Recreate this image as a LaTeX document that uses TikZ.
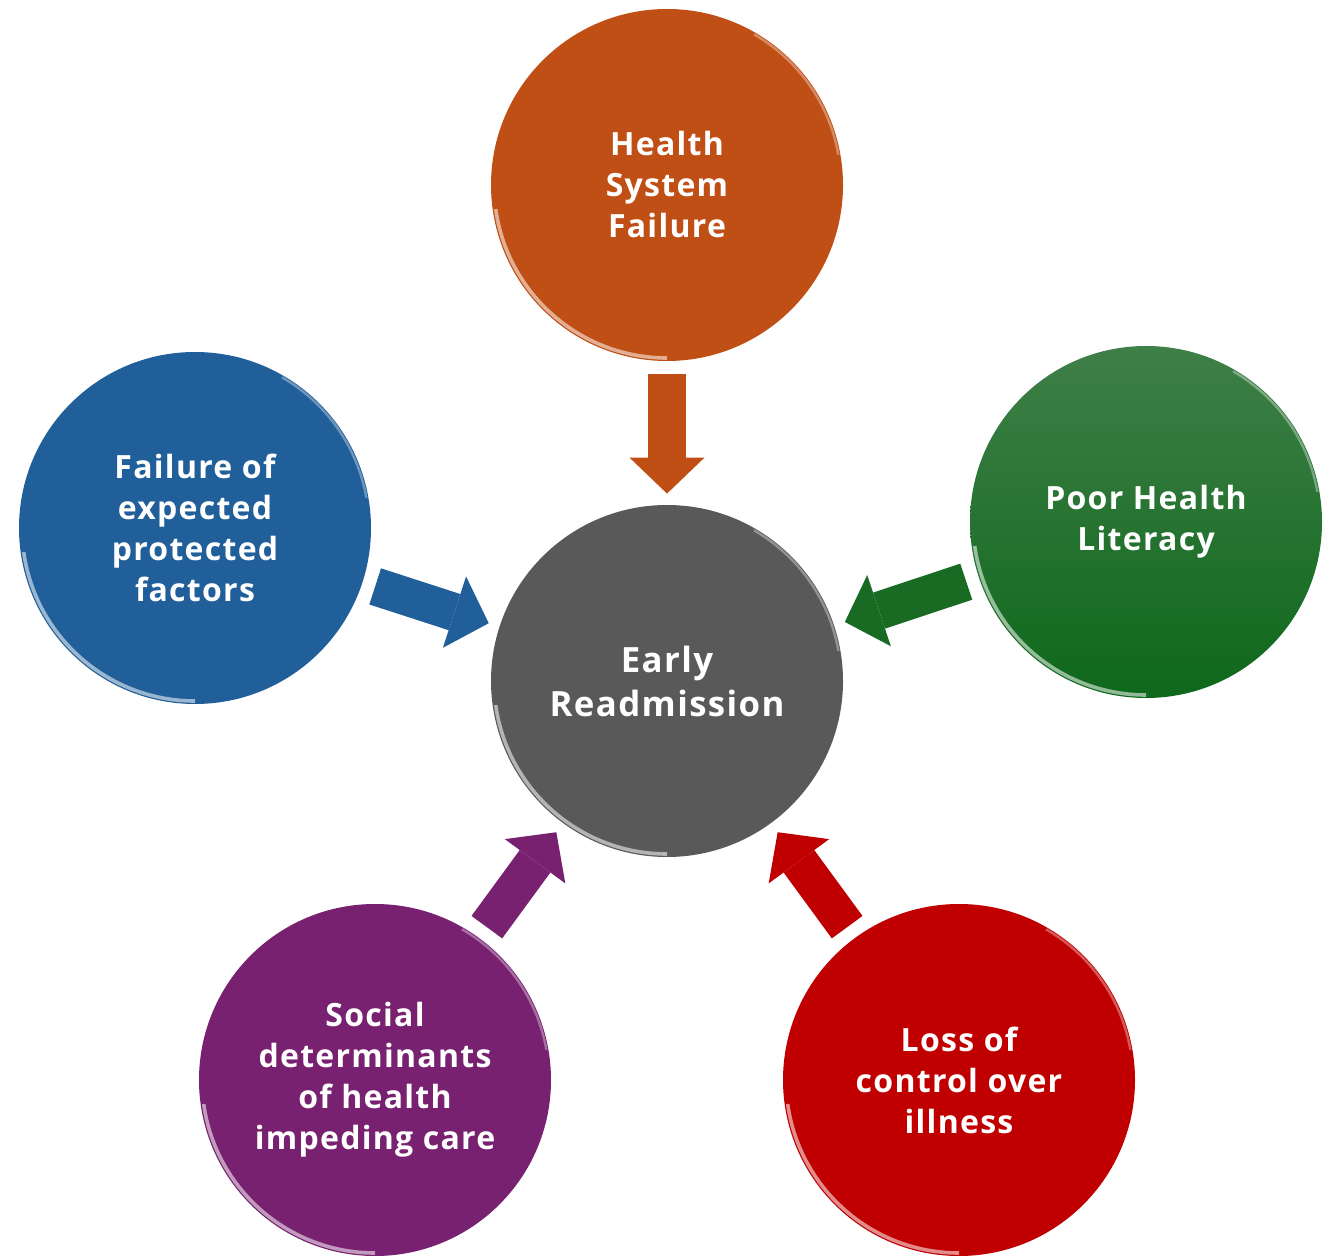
\documentclass[tikz,border=0pt]{standalone}
\usepackage{fontspec}
\setmainfont{Open Sans}[LetterSpace=4]
\usepackage{tikz}
\usetikzlibrary{arrows.meta}
\definecolor{hsorange}{HTML}{C04F15}
\definecolor{ergrey}{HTML}{595959}
\definecolor{fblue}{HTML}{215F9A}
\definecolor{plgreen}{HTML}{196B24}
\definecolor{plgreentop}{HTML}{3F7F48}
\definecolor{plgreenbot}{HTML}{0E681B}
\definecolor{sdpurple}{HTML}{782170}
\definecolor{lcred}{HTML}{C00000}
\tikzset{
    bubble/.style={circle, inner sep=0pt, minimum size=176pt, text=white,
        align=center, font=\bfseries\fontsize{16}{20.5}\selectfont,
        path picture={
            \draw[white, opacity=.55, line width=1.8pt]
                ([shift={(188:86.5pt)}]path picture bounding box.center)
                arc[start angle=188, end angle=270, radius=86.5pt];
            \draw[white, opacity=.35, line width=1.2pt]
                ([shift={(10:87pt)}]path picture bounding box.center)
                arc[start angle=10, end angle=60, radius=87pt];
        }}
}
\tikzset{
    push/.style={line width=19pt, -{Triangle[width=37.5pt, length=18pt, line width=0pt]},
        shorten <=6.5pt, shorten >=5.5pt}
}

\begin{document}
\begin{tikzpicture}[x=0.5pt, y=-0.5pt]
    \useasboundingbox (0,0) rectangle (1333,1256);

    \node (er) at (667,681) [bubble, fill=ergrey,
        font=\bfseries\fontsize{17.4}{22}\selectfont] {Early\\Readmission};
    \node (hsf) at (667,185) [bubble, fill=hsorange] {Health\\System\\Failure};
    \node (fpf) at (195,528) [bubble, fill=fblue] {Failure of\\expected\\protected\\factors};
    \node (phl) at (1146,522) [bubble, top color=plgreentop, bottom color=plgreenbot] {Poor Health\\Literacy};
    \node (sdh) at (375,1080) [bubble, fill=sdpurple] {Social\\determinants\\of health\\impeding care};
    \node (lco) at (959,1080) [bubble, fill=lcred] {Loss of\\control over\\illness};

    \draw (hsf) edge[push, hsorange] (er);
    \draw (fpf) edge[push, fblue] (er);
    \draw (phl) edge[push, plgreen] (er);
    \draw (sdh) edge[push, sdpurple] (er);
    \draw (lco) edge[push, lcred] (er);
\end{tikzpicture}
\end{document}
